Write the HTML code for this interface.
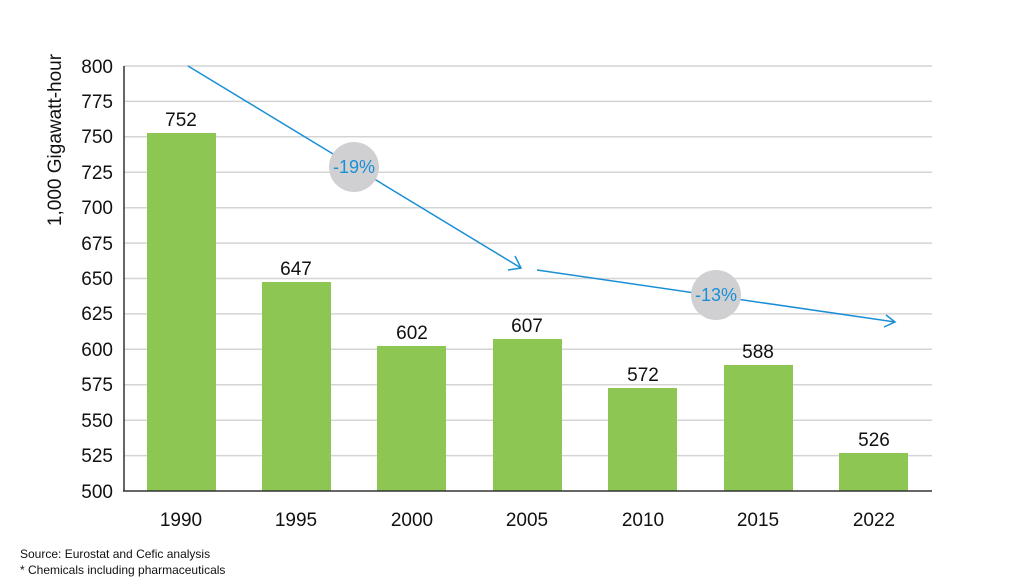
<!DOCTYPE html>
<html><head><meta charset="utf-8"><style>
html,body{margin:0;padding:0;background:#fff;}
svg{display:block;font-family:"Liberation Sans",sans-serif;}
</style></head><body>
<svg width="1024" height="585" viewBox="0 0 1024 585" xmlns="http://www.w3.org/2000/svg">
<rect width="1024" height="585" fill="#fff"/>
<g stroke="#d4d4d4" stroke-width="1.5">
<line x1="124" x2="932" y1="66" y2="66"/>
<line x1="124" x2="932" y1="101.4" y2="101.4"/>
<line x1="124" x2="932" y1="136.8" y2="136.8"/>
<line x1="124" x2="932" y1="172.2" y2="172.2"/>
<line x1="124" x2="932" y1="207.7" y2="207.7"/>
<line x1="124" x2="932" y1="243.1" y2="243.1"/>
<line x1="124" x2="932" y1="278.5" y2="278.5"/>
<line x1="124" x2="932" y1="313.9" y2="313.9"/>
<line x1="124" x2="932" y1="349.3" y2="349.3"/>
<line x1="124" x2="932" y1="384.7" y2="384.7"/>
<line x1="124" x2="932" y1="420.2" y2="420.2"/>
<line x1="124" x2="932" y1="455.6" y2="455.6"/>
</g>
<g fill="#8dc652">
<rect x="147" y="133" width="69" height="358"/>
<rect x="262" y="282" width="69" height="209"/>
<rect x="377" y="346" width="69" height="145"/>
<rect x="493" y="339" width="69" height="152"/>
<rect x="608" y="388" width="69" height="103"/>
<rect x="724" y="365" width="69" height="126"/>
<rect x="839" y="453" width="69" height="38"/>
</g>
<line x1="124" y1="66" x2="124" y2="491" stroke="#333" stroke-width="1.5"/>
<line x1="123" y1="491" x2="932" y2="491" stroke="#333" stroke-width="1.5"/>
<g font-size="19" fill="#111" text-anchor="end">
<text x="113" y="73">800</text><text x="113" y="108">775</text><text x="113" y="143">750</text>
<text x="113" y="179">725</text><text x="113" y="214">700</text><text x="113" y="250">675</text>
<text x="113" y="285">650</text><text x="113" y="320">625</text><text x="113" y="356">600</text>
<text x="113" y="391">575</text><text x="113" y="427">550</text><text x="113" y="462">525</text>
<text x="113" y="498">500</text>
</g>
<text transform="translate(61,140) rotate(-90)" font-size="19" fill="#111" text-anchor="middle">1,000 Gigawatt-hour</text>
<g font-size="19" fill="#111" text-anchor="middle">
<text x="181" y="526">1990</text><text x="296" y="526">1995</text><text x="412" y="526">2000</text>
<text x="527" y="526">2005</text><text x="643" y="526">2010</text><text x="758" y="526">2015</text><text x="874" y="526">2022</text>
<text x="181" y="126">752</text><text x="296" y="275">647</text><text x="412" y="339">602</text>
<text x="527" y="332">607</text><text x="643" y="381">572</text><text x="758" y="358">588</text><text x="874" y="446">526</text>
</g>
<g stroke="#1a8fd6" stroke-width="1.5" fill="none">
<line x1="188" y1="66" x2="521" y2="268"/>
<polyline points="508,270 521,268 515,256"/>
<line x1="537" y1="270" x2="895" y2="322"/>
<polyline points="884,327 895,322 886,315"/>
</g>
<circle cx="354" cy="167" r="25" fill="#d0d0d2"/>
<circle cx="716" cy="295" r="25" fill="#d0d0d2"/>
<g font-size="18" fill="#1a8fd6" text-anchor="middle">
<text x="354" y="173">-19%</text>
<text x="716" y="301">-13%</text>
</g>
<g font-size="12" fill="#111">
<text x="20" y="558">Source: Eurostat and Cefic analysis</text>
<text x="20" y="574">* Chemicals including pharmaceuticals</text>
</g>
</svg>
</body></html>
